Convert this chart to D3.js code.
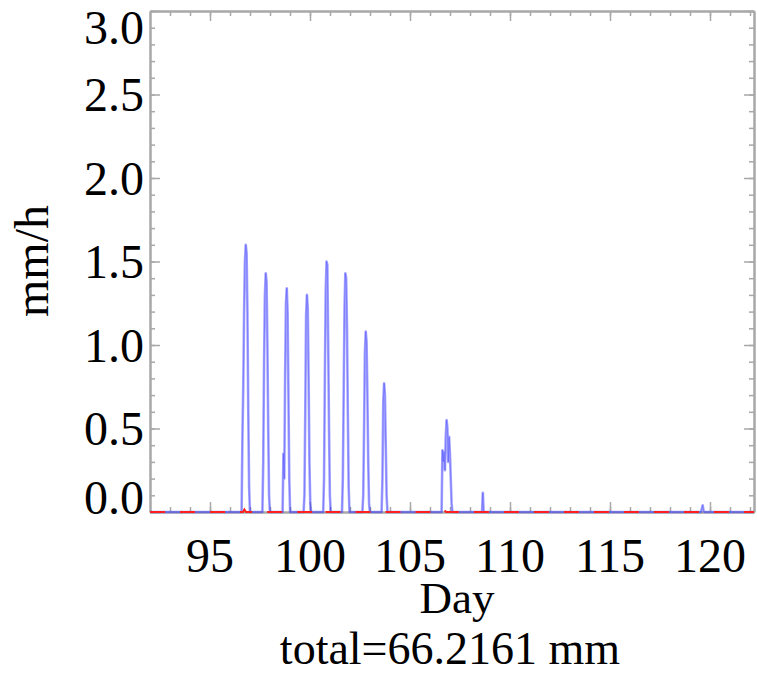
<!DOCTYPE html>
<html>
<head>
<meta charset="utf-8">
<style>
  body { margin: 0; background: #fff; }
  svg { display: block; }
  text { font-family: "Liberation Serif", "DejaVu Serif", serif; fill: #000; }
</style>
</head>
<body>
<div id="chart"></div>
<script src="https://d3js.org/d3.v7.min.js"></script>
<script>
// rain events: start day + hourly values (mm/h)
const eventStarts = [96.58, 97.62, 98.63, 99.68, 100.66, 101.6, 102.62, 103.58, 106.58, 108.6, 119.55];
const eventValues = [
  [0, 0.45, 0.75, 1.2, 1.5, 1.6, 1.55, 1.2, 0.6, 0.15, 0],
  [0, 0.3, 0.9, 1.3, 1.43, 1.38, 1.0, 0.5, 0.1, 0],
  [0, 0.35, 0.2, 0.8, 1.25, 1.34, 1.2, 0.7, 0.2, 0],
  [0, 0.1, 0.6, 1.18, 1.3, 1.22, 0.8, 0.3, 0.05, 0],
  [0, 0.2, 0.8, 1.32, 1.5, 1.48, 1.0, 0.5, 0.1, 0],
  [0, 0.2, 0.7, 1.21, 1.43, 1.4, 1.1, 0.6, 0.15, 0],
  [0, 0.1, 0.5, 0.95, 1.08, 1.02, 0.7, 0.3, 0.05, 0],
  [0, 0.2, 0.66, 0.77, 0.7, 0.4, 0.1, 0],
  [0, 0.37, 0.3, 0.36, 0.25, 0.45, 0.55, 0.5, 0.3, 0.45, 0.35, 0.2, 0.05, 0],
  [0, 0.115, 0],
  [0, 0.02, 0.04, 0.01, 0]
];
// second series (red), almost zero
const redDays = [92, 96.65, 96.72, 96.8, 100.7, 100.76, 100.82, 106.65, 106.72, 106.8, 122.2];
const redVals = [0, 0, 0.015, 0, 0, 0.01, 0, 0, 0.01, 0, 0];

const dayStart = 92, dayEnd = 122.2;
const yTicks = [0, 0.5, 1.0, 1.5, 2.0, 2.5, 3.0];
const xTicks = [95, 100, 105, 110, 115, 120];
const totalText = "total=66.2161 mm";

const W = 757, H = 675;
const svg = d3.select('#chart').append('svg').attr('width', W).attr('height', H);

const x = d3.scaleLinear().domain([dayStart, dayEnd]).range([150, 754]);
const y = d3.scaleLinear().domain([0, 3]).range([512, 11]);

// build blue series from events, with zero at both ends of the period
const blue = [[dayStart, 0]];
eventStarts.forEach((s, i) => {
  eventValues[i].forEach((v, h) => blue.push([s + h / 24, v]));
});
blue.push([dayEnd, 0]);

const axisCol = '#a8a8a8';

// axes with minor ticks
const xMinor = d3.range(93, 123, 1);
const yMinor = d3.range(0, 31, 1).map(d => d / 10);

function styleAxis(g) {
  g.select('.domain').attr('stroke', axisCol).attr('stroke-width', 2);
  g.selectAll('.tick line').attr('stroke', axisCol).attr('stroke-width', 1.5);
}

function frameAxis(axisFn, pos, ticks, size) {
  svg.append('g').attr('transform', pos)
    .call(axisFn.tickValues(ticks).tickSize(size).tickSizeOuter(0).tickFormat(''))
    .call(styleAxis);
}

// bottom / top
frameAxis(d3.axisTop(x), 'translate(0,512)', xMinor, 5);
frameAxis(d3.axisTop(x), 'translate(0,512)', xTicks, 10);
frameAxis(d3.axisBottom(x), 'translate(0,11)', xMinor, 5);
frameAxis(d3.axisBottom(x), 'translate(0,11)', xTicks, 10);
// left / right
frameAxis(d3.axisRight(y), 'translate(150,0)', yMinor, 5);
frameAxis(d3.axisRight(y), 'translate(150,0)', yTicks, 10);
frameAxis(d3.axisLeft(y), 'translate(754,0)', yMinor, 5);
frameAxis(d3.axisLeft(y), 'translate(754,0)', yTicks, 10);

// tick labels
svg.append('g').selectAll('text').data(yTicks).enter().append('text')
  .attr('x', 144)
  .attr('y', d => Math.min(Math.max(y(d), 27), 497))
  .attr('dy', '0.35em')
  .attr('text-anchor', 'end')
  .style('font-size', '48px')
  .text(d => d.toFixed(1));

svg.append('g').selectAll('text').data(xTicks).enter().append('text')
  .attr('x', d => x(d))
  .attr('y', 572)
  .attr('text-anchor', 'middle')
  .style('font-size', '48px')
  .text(d => d);

// titles
svg.append('text').attr('x', 457).attr('y', 613).attr('text-anchor', 'middle')
  .style('font-size', '45px').text('Day');
svg.append('text').attr('x', 450).attr('y', 664).attr('text-anchor', 'middle')
  .style('font-size', '46px').text(totalText);
svg.append('text').attr('transform', 'translate(48,261) rotate(-90)')
  .attr('text-anchor', 'middle').style('font-size', '48px').text('mm/h');

// series
const line = d3.line().x(d => x(d[0])).y(d => y(d[1]));

svg.append('path')
  .datum(blue)
  .attr('d', line)
  .attr('fill', 'none')
  .attr('stroke', '#3a3aff')
  .attr('stroke-opacity', 0.45)
  .attr('stroke-width', 2.6)
  .attr('stroke-linejoin', 'round');

svg.append('path')
  .datum(blue)
  .attr('d', line)
  .attr('fill', 'none')
  .attr('stroke', '#3030ff')
  .attr('stroke-opacity', 0.35)
  .attr('stroke-width', 1);

svg.append('path')
  .datum(redDays.map((d, i) => [d, redVals[i]]))
  .attr('d', line)
  .attr('fill', 'none')
  .attr('stroke', '#ff2020')
  .attr('stroke-width', 2)
  .attr('stroke-dasharray', '15,15');
</script>
</body>
</html>
